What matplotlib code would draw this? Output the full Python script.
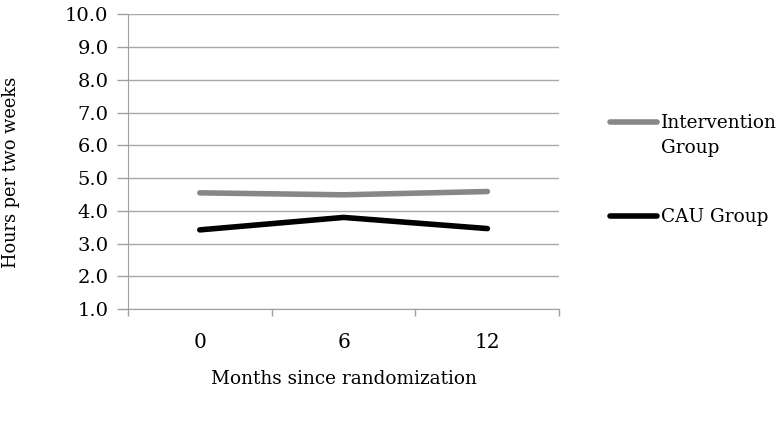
import numpy as np
import matplotlib.pyplot as plt
from matplotlib.lines import Line2D

months = ["0", "6", "12"]
intervention = [4.55, 4.49, 4.59]
cau = [3.42, 3.80, 3.46]

plt.rcParams['font.family'] = ['DejaVu Serif']

fig = plt.figure(figsize=(7.8, 4.43), dpi=100)
ax = fig.add_axes([0.164, 0.302, 0.553, 0.666])

x = np.arange(len(months))
ax.plot(x, cau, color="black", lw=4, solid_capstyle="round", zorder=3)
ax.plot(x, intervention, color="#878787", lw=4, solid_capstyle="round", zorder=3)

ax.set_xlim(-0.5, len(months) - 0.5)
ax.set_ylim(1.0, 10.0)
ax.set_yticks(np.arange(1, 11, 1.0))
ax.set_yticklabels([f"{v:.1f}" for v in np.arange(1, 11, 1.0)], fontsize=14)

# category boundaries carry the ticks, labels sit in the middle
ax.set_xticks(np.arange(-0.5, len(months), 1.0))
ax.set_xticklabels([])
ax.set_xticks(x, minor=True)
ax.set_xticklabels(months, minor=True, fontsize=14.5)
ax.tick_params(axis="x", which="minor", length=0, pad=17)
ax.tick_params(axis="x", which="major", length=5, color="#a0a0a0", width=1)
ax.tick_params(axis="y", length=8, color="#a0a0a0", width=1, pad=6)

ax.grid(axis="y", color="#a8a8a8", lw=1)
ax.set_axisbelow(True)
for s in ["top", "right"]:
    ax.spines[s].set_visible(False)
for s in ["left", "bottom"]:
    ax.spines[s].set_color("#a0a0a0")

ax.set_xlabel("Months since randomization", fontsize=13.3, labelpad=13)
ax.set_ylabel("Hours per two weeks", fontsize=12.8)
ax.yaxis.set_label_coords(-0.25, 0.463)

# legend drawn by hand so the handle lines up with the first text line
for yy, col, lab in [(0.725, "#878787", "Intervention\nGroup"), (0.512, "black", "CAU Group")]:
    fig.add_artist(Line2D([0.782, 0.842], [yy, yy], color=col, lw=4,
                          solid_capstyle="round", transform=fig.transFigure))
    fig.text(0.848, yy + 0.018, lab, fontsize=13.3, va="top", ha="left", linespacing=1.5)

fig.savefig("out.png", dpi=100)
